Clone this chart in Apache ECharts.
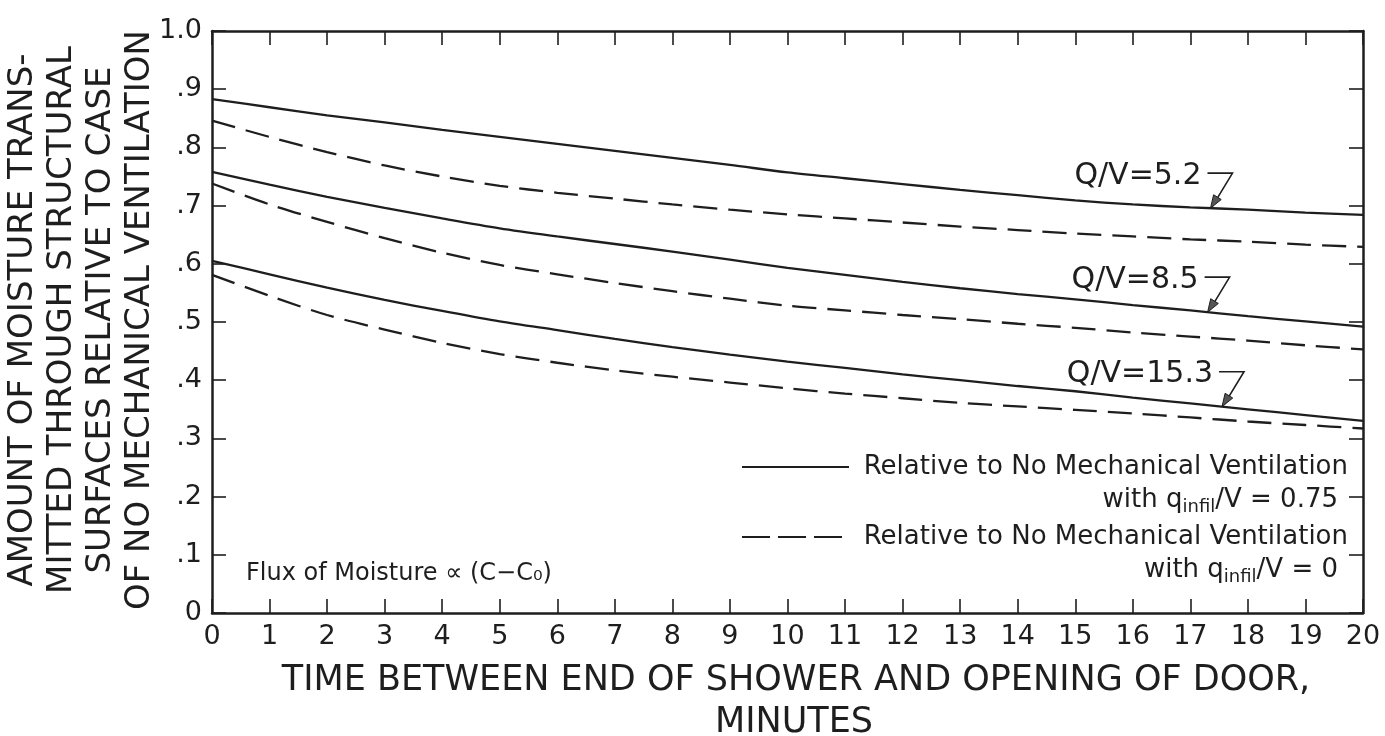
<!DOCTYPE html>
<html>
<head>
<meta charset="utf-8">
<script src="https://cdn.jsdelivr.net/npm/echarts@6/dist/echarts.min.js"></script>
<style>
html,body{margin:0;padding:0;background:#fff;}
#chart{width:1385px;height:736px;}
</style>
</head>
<body>
<div id="chart"></div>
<script>
const minutes = [0,1,2,3,4,5,6,7,8,9,10,11,12,13,14,15,16,17,18,19,20];
// Solid: relative to no mechanical ventilation with q_infil/V = 0.75
const solidQV52  = [0.883,0.869,0.855,0.843,0.830,0.818,0.806,0.794,0.782,0.770,0.757,0.747,0.737,0.727,0.718,0.709,0.702,0.697,0.693,0.688,0.684];
const solidQV85  = [0.758,0.736,0.715,0.696,0.678,0.661,0.647,0.634,0.621,0.607,0.593,0.581,0.569,0.558,0.548,0.539,0.529,0.520,0.510,0.501,0.492];
const solidQV153 = [0.605,0.582,0.559,0.538,0.519,0.501,0.486,0.471,0.457,0.444,0.432,0.421,0.410,0.400,0.390,0.381,0.370,0.360,0.350,0.340,0.330];
// Dashed: relative to no mechanical ventilation with q_infil/V = 0
const dashedQV52  = [0.846,0.818,0.792,0.769,0.750,0.734,0.722,0.712,0.702,0.693,0.685,0.678,0.671,0.664,0.658,0.652,0.647,0.642,0.638,0.633,0.629];
const dashedQV85  = [0.738,0.702,0.672,0.644,0.619,0.598,0.582,0.567,0.553,0.540,0.528,0.520,0.512,0.505,0.497,0.490,0.482,0.475,0.468,0.460,0.453];
const dashedQV153 = [0.581,0.545,0.512,0.487,0.464,0.445,0.430,0.417,0.406,0.396,0.386,0.377,0.369,0.361,0.355,0.349,0.343,0.336,0.329,0.323,0.317];

const yTickLabels = {0:'0',0.1:'.1',0.2:'.2',0.3:'.3',0.4:'.4',0.5:'.5',0.6:'.6',0.7:'.7',0.8:'.8',0.9:'.9',1:'1.0'};
const annotations = [
  {text:'Q/V=5.2',  series: solidQV52,  at: 17.35},
  {text:'Q/V=8.5',  series: solidQV85,  at: 17.3},
  {text:'Q/V=15.3', series: solidQV153, at: 17.55}
];
const yTitle = ['AMOUNT OF MOISTURE TRANS-','MITTED THROUGH STRUCTURAL','SURFACES RELATIVE TO CASE','OF NO MECHANICAL VENTILATION'];
const xTitle = ['TIME BETWEEN END OF SHOWER AND OPENING OF DOOR,','MINUTES'];

const INK = '#1e1e1e';
const FONT = 'DejaVu Sans';
const DASH = [24, 11];

function pairs(arr){ return minutes.map((m,i)=>[m,arr[i]]); }
function mkSeries(arr, dashed){
  return {type:'line', data:pairs(arr), smooth:0.3, showSymbol:false, silent:true,
    lineStyle:{color:INK, width:2.3, type: dashed ? DASH : 'solid'}};
}

const chart = echarts.init(document.getElementById('chart'), null, {renderer:'canvas'});
const axisCommonX = {
  type:'value', min:0, max:20, interval:1,
  axisLine:{show:true, onZero:false, lineStyle:{color:INK, width:2.5}},
  axisTick:{show:true, inside:true, length:14, lineStyle:{color:INK, width:1.6}},
  splitLine:{show:false}
};
const axisCommonY = {
  type:'value', min:0, max:1, interval:0.1,
  axisLine:{show:true, onZero:false, lineStyle:{color:INK, width:2.5}},
  axisTick:{show:true, inside:true, length:14, lineStyle:{color:INK, width:1.6}},
  splitLine:{show:false}
};
chart.setOption({
  animation:false,
  backgroundColor:'#fff',
  grid:{left:212, right:22, top:31, bottom:123, containLabel:false},
  xAxis:[
    Object.assign({}, axisCommonX, {position:'bottom',
      axisLabel:{show:true, margin:10, color:INK, fontFamily:FONT, fontSize:27,
        formatter:v=>String(v)}}),
    Object.assign({}, axisCommonX, {position:'top', axisLabel:{show:false}})
  ],
  yAxis:[
    Object.assign({}, axisCommonY, {position:'left',
      axisLabel:{show:true, margin:10, color:INK, fontFamily:FONT, fontSize:27,
        formatter:v=>yTickLabels[Math.round(v*10)/10]}}),
    Object.assign({}, axisCommonY, {position:'right', axisLabel:{show:false}})
  ],
  series:[
    mkSeries(solidQV52,false), mkSeries(dashedQV52,true),
    mkSeries(solidQV85,false), mkSeries(dashedQV85,true),
    mkSeries(solidQV153,false), mkSeries(dashedQV153,true)
  ]
});

function interp(arr, x){
  const i = Math.min(Math.floor(x), minutes.length-2);
  const t = x - minutes[i];
  return arr[i] + (arr[i+1]-arr[i])*t;
}

const g = [];
// Y axis title
g.push({type:'text', x:82, y:320, rotation:Math.PI/2,
  style:{text:yTitle.join('\n'), fill:INK, font:'34px "DejaVu Sans"', textAlign:'center', textVerticalAlign:'middle', lineHeight:39}});
// X axis title
g.push({type:'text', x:796, y:681, style:{text:xTitle[0], fill:INK, font:'35px "DejaVu Sans"', textAlign:'center', textVerticalAlign:'middle'}});
g.push({type:'text', x:794, y:723, style:{text:xTitle[1], fill:INK, font:'35px "DejaVu Sans"', textAlign:'center', textVerticalAlign:'middle'}});
// Flux note
g.push({type:'text', x:246, y:574, style:{text:'Flux of Moisture \u221D (C\u2212C\u2080)', fill:INK, font:'24px "DejaVu Sans"', textAlign:'left', textVerticalAlign:'middle'}});

// Legend
const legX0 = 742, legX1 = 849, legTextX = 1348;
function legendBlock(yTop, dashed, val){
  g.push({type:'line', shape:{x1:legX0, y1:yTop, x2:legX1, y2:yTop}, style:{stroke:INK, lineWidth:2.2, lineDash: dashed ? [28,8] : null}});
  g.push({type:'text', x:legTextX, y:yTop, style:{text:'Relative to No Mechanical Ventilation', fill:INK, font:'26px "DejaVu Sans"', textAlign:'right', textVerticalAlign:'middle'}});
  g.push({type:'text', x:legTextX-10, y:yTop+33, style:{
    text:'with q{sub|infil}/V = '+val, fill:INK, font:'26px "DejaVu Sans"', textAlign:'right', textVerticalAlign:'middle',
    rich:{sub:{fontSize:18, fontFamily:FONT, fill:INK, padding:[14,0,0,0]}}}});
}
legendBlock(467, false, '0.75');
legendBlock(537, true, '0');

// Q/V annotations with leader arrows
annotations.forEach(a=>{
  const tip = chart.convertToPixel({gridIndex:0}, [a.at, interp(a.series, a.at)]);
  const tx = tip[0], ty = tip[1];
  const cx = tx + 22, cy = ty - 35;
  g.push({type:'polyline', shape:{points:[[tx-3,cy],[cx,cy],[tx+2,ty-2]]}, style:{stroke:INK, lineWidth:1.6, fill:null}});
  const ang = Math.atan2(ty - cy, tx - cx);
  const L = 13, W = 4.5;
  const bx = tx - L*Math.cos(ang), by = ty - L*Math.sin(ang);
  g.push({type:'polygon', shape:{points:[[tx,ty],[bx - W*Math.sin(ang), by + W*Math.cos(ang)],[bx + W*Math.sin(ang), by - W*Math.cos(ang)]]}, style:{fill:'#555', stroke:INK, lineWidth:1}});
  g.push({type:'text', x:tx-9, y:ty-32, style:{text:a.text, fill:INK, font:'30px "DejaVu Sans"', textAlign:'right', textVerticalAlign:'middle'}});
});

chart.setOption({graphic:g});
</script>
</body>
</html>
